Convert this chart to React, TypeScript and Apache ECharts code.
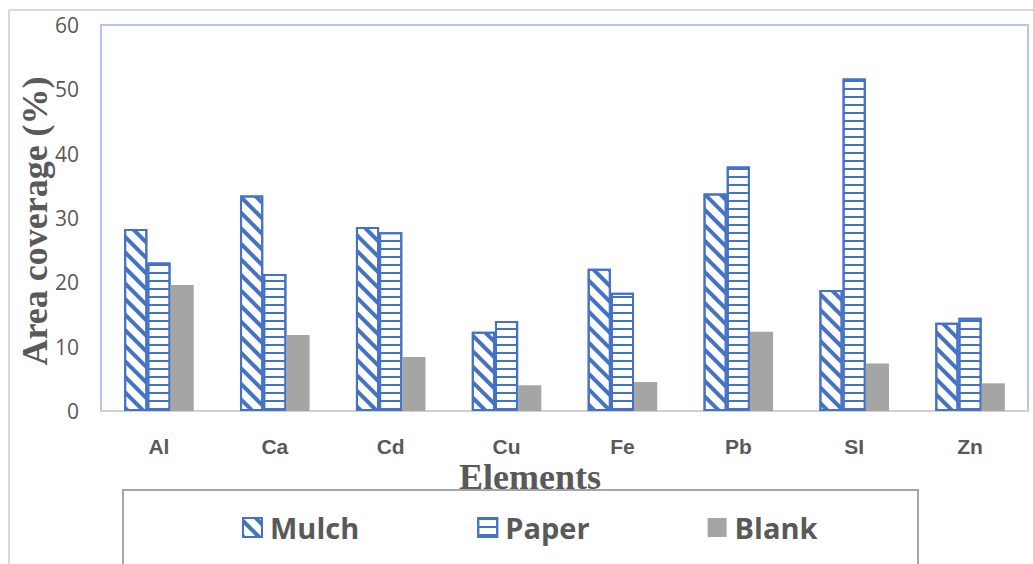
import React, { useEffect, useRef } from "react";
import * as echarts from "echarts";

const categories = ["Al", "Ca", "Cd", "Cu", "Fe", "Pb", "SI", "Zn"];
const mulch = [28.3, 33.5, 28.6, 12.3, 22.1, 33.8, 18.8, 13.7];
const paper = [23.1, 21.3, 27.8, 14.0, 18.4, 38.0, 51.7, 14.5];
const blank = [19.6, 11.8, 8.4, 4.0, 4.5, 12.3, 7.4, 4.3];
const yTicks = [0, 10, 20, 30, 40, 50, 60];

const BLUE = "#4472c4";

export default function App() {
  const ref = useRef<HTMLDivElement>(null);
  useEffect(() => {
    if (!ref.current) return;
    const chart = echarts.init(ref.current, null, { renderer: "svg" });
    chart.setOption({
      animation: false,
      backgroundColor: "#ffffff",
      grid: {
        left: 101,
        right: 5,
        top: 25,
        bottom: 153,
        show: true,
        borderColor: "#b4c7e7",
        borderWidth: 2,
      },
      legend: {
        left: 237,
        top: 508,
        itemWidth: 19,
        itemHeight: 19,
        itemGap: 118,
        icon: "rect",
        textStyle: {
          fontFamily: "Open Sans",
          fontWeight: "bold",
          fontSize: 29,
          color: "#595959",
          padding: [0, 0, 0, 3],
        },
        data: ["Mulch", "Paper", "Blank"],
      },
      xAxis: {
        type: "category",
        data: categories,
        axisLine: { show: true, lineStyle: { color: "#d0d0d0", width: 2 } },
        axisTick: { show: false },
        axisLabel: {
          margin: 24,
          fontFamily: "Liberation Sans",
          fontWeight: "bold",
          fontSize: 21,
          lineHeight: 22,
          color: "#595959",
        },
      },
      yAxis: {
        type: "value",
        min: yTicks[0],
        max: yTicks[yTicks.length - 1],
        interval: 10,
        splitLine: { show: false },
        axisLine: { show: false },
        axisTick: { show: false },
        axisLabel: {
          margin: 22,
          fontFamily: "Open Sans",
          fontSize: 21,
          color: "#595959",
        },
      },
      series: [
        {
          name: "Mulch",
          type: "bar",
          data: mulch,
          barGap: "0%",
          barCategoryGap: "40%",
          itemStyle: {
            color: "#ffffff",
            borderColor: BLUE,
            borderWidth: 2,
            decal: {
              symbol: "rect",
              symbolSize: 1,
              dashArrayX: [1, 0],
              dashArrayY: [4, 7],
              rotation: Math.PI / 4,
              color: BLUE,
            },
          },
        },
        {
          name: "Paper",
          type: "bar",
          data: paper,
          barGap: "0%",
          barCategoryGap: "40%",
          itemStyle: {
            color: "#ffffff",
            borderColor: BLUE,
            borderWidth: 2,
            decal: {
              symbol: "rect",
              symbolSize: 1,
              dashArrayX: [1, 0],
              dashArrayY: [2, 6],
              rotation: 0,
              color: BLUE,
            },
          },
        },
        {
          name: "Blank",
          type: "bar",
          data: blank,
          barGap: "0%",
          barCategoryGap: "40%",
          itemStyle: { color: "#a5a5a5" },
        },
      ],
      graphic: [
        {
          type: "line",
          shape: { x1: 9, y1: 10, x2: 1033, y2: 10 },
          style: { stroke: "#d9d9d9", lineWidth: 2 },
          silent: true,
        },
        {
          type: "line",
          shape: { x1: 9, y1: 10, x2: 9, y2: 564 },
          style: { stroke: "#d9d9d9", lineWidth: 2 },
          silent: true,
        },
        {
          type: "rect",
          shape: { x: 123, y: 490, width: 795, height: 90 },
          style: { fill: "none", stroke: "#a6a6a6", lineWidth: 2 },
          silent: true,
          z: -1,
        },
        {
          type: "text",
          x: 530,
          y: 477,
          style: {
            text: "Elements",
            font: "bold 36px 'Liberation Serif'",
            fill: "#595959",
            align: "center",
            verticalAlign: "middle",
          },
          silent: true,
        },
        {
          type: "text",
          x: 35,
          y: 221,
          rotation: Math.PI / 2,
          style: {
            text: "Area coverage (%)",
            font: "bold 36px 'Liberation Serif'",
            fill: "#595959",
            align: "center",
            verticalAlign: "middle",
          },
          silent: true,
        },
      ],
    });
    return () => chart.dispose();
  }, []);
  return (
    <div
      ref={ref}
      style={{ position: "absolute", left: 0, top: 0, width: 1033, height: 564 }}
    />
  );
}
